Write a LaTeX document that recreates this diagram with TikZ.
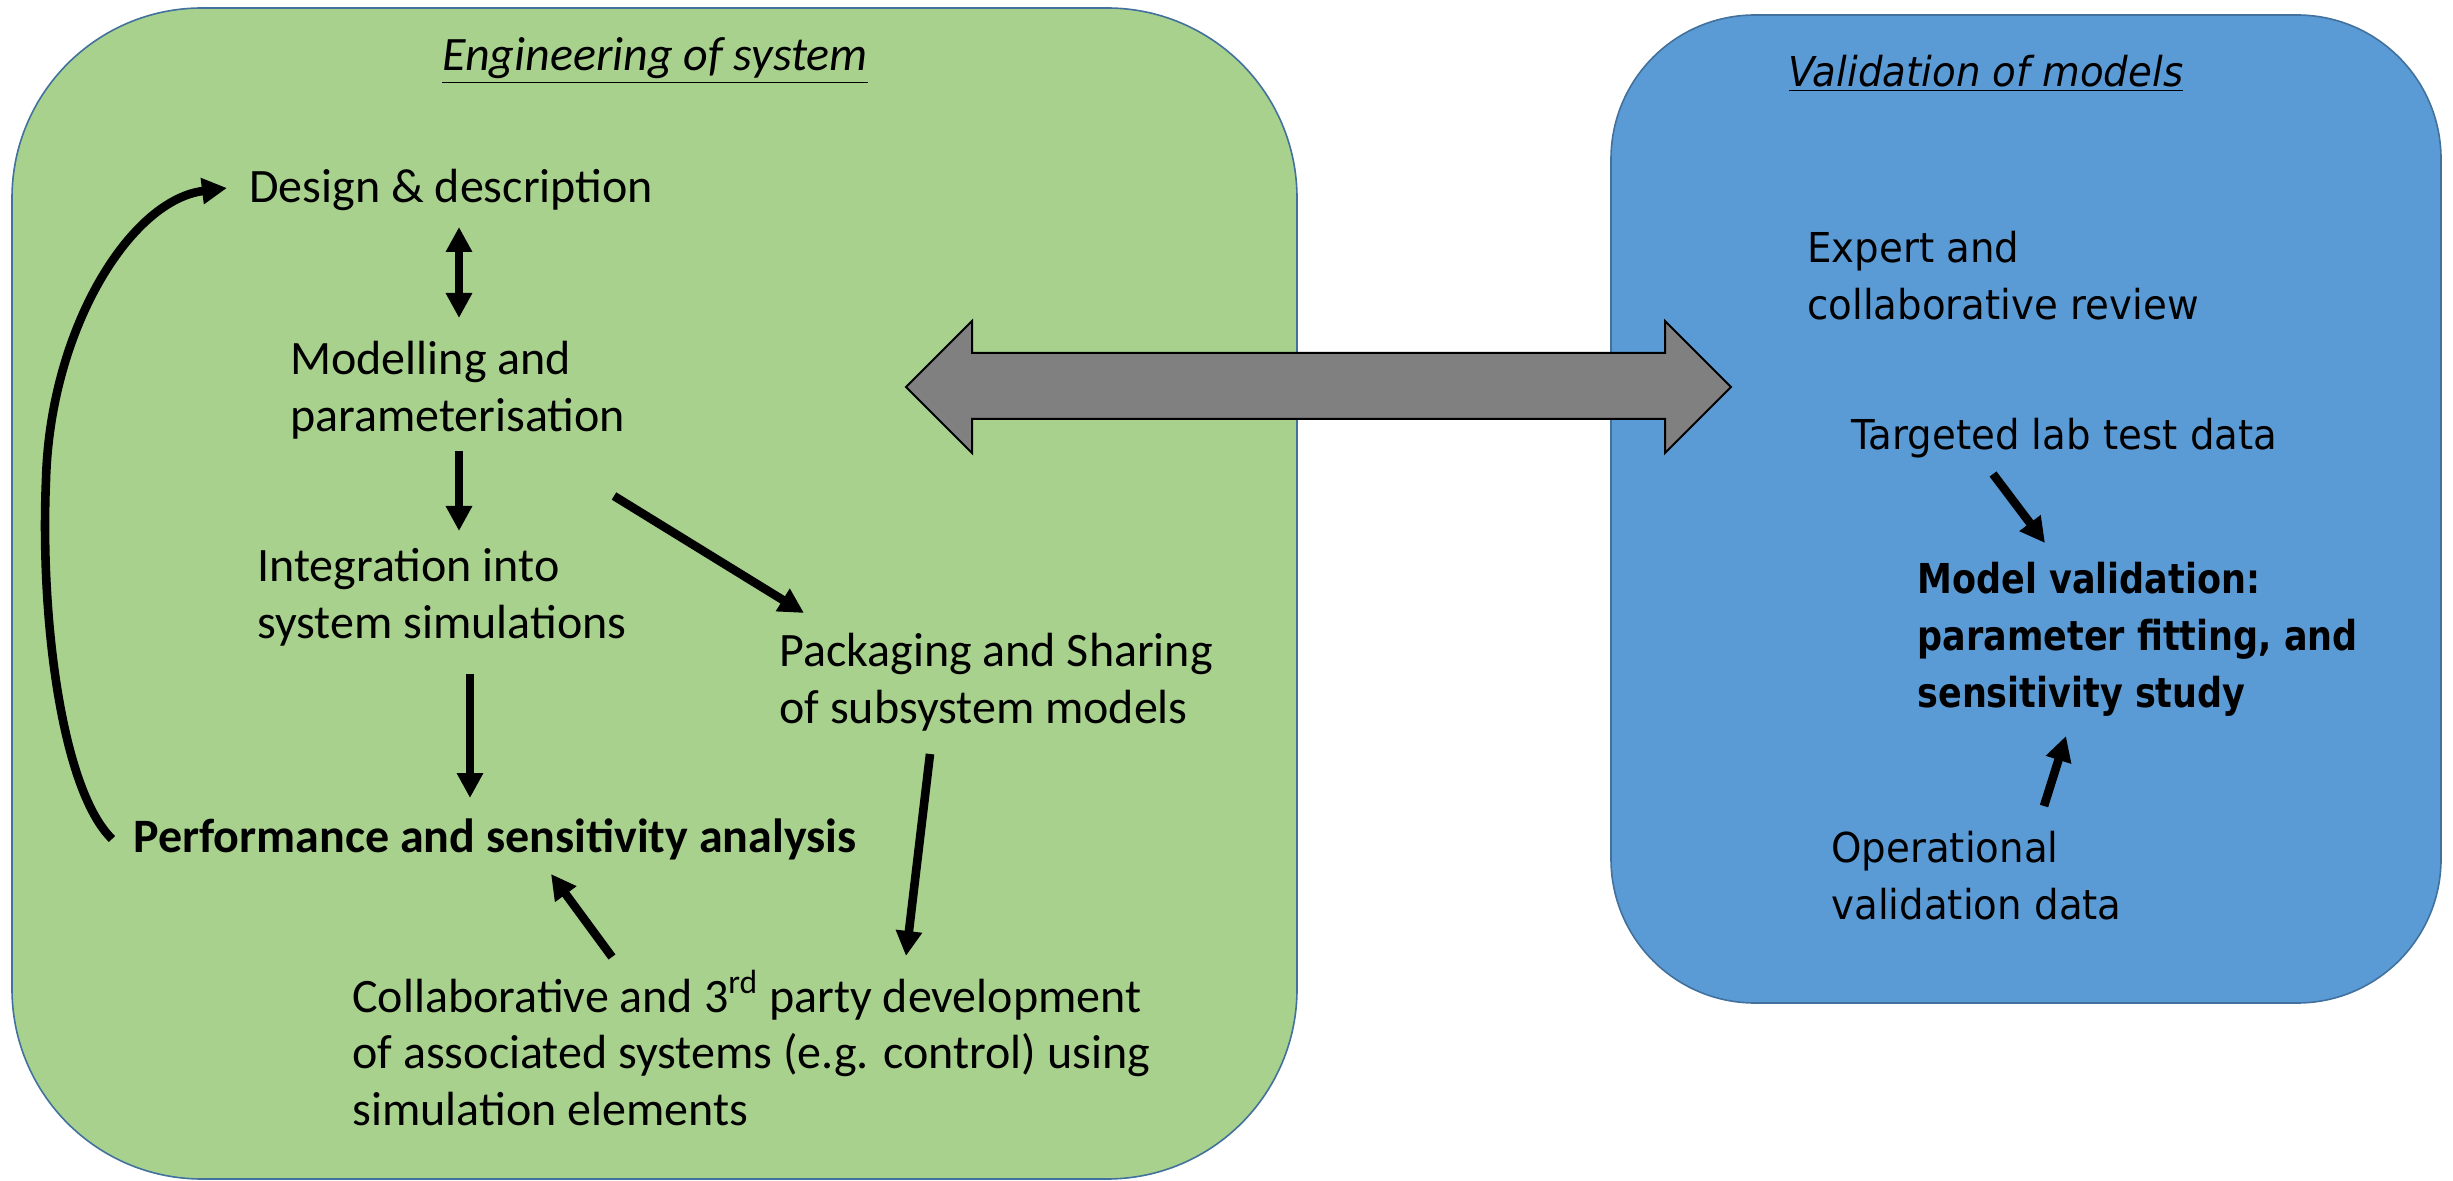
\documentclass[tikz,border=0pt]{standalone}
\usepackage{fontspec}
\newfontfamily\leftfont{Carlito}
\newfontfamily\rightfont{DejaVu Sans}[FakeStretch=0.94]
\newfontfamily\rightbold{DejaVu Sans}[FakeStretch=0.85]
\usetikzlibrary{arrows.meta}
\definecolor{engfill}{HTML}{A9D18E}
\definecolor{valfill}{HTML}{5B9BD5}
\definecolor{panelline}{HTML}{41719C}
\definecolor{linkgray}{HTML}{808080}
% stacked lines whose reference point is the first baseline
\newcommand{\stackedlines}[1]{\begin{tabular}[t]{@{}l@{}}#1\end{tabular}}
\tikzset{
  panel/.style={draw=panelline, line width=0.8pt},
  ltext/.style={font=\leftfont\fontsize{24}{28.25}\selectfont, inner sep=0pt, anchor=base west},
  rtext/.style={font=\rightfont\fontsize{20.6}{28.5}\selectfont, inner sep=0pt, anchor=base west},
  conn/.style={line width=4.3pt, -{Triangle[length=12.5pt,width=12.5pt]}},
  biconn/.style={line width=4.3pt, {Triangle[length=12.5pt,width=12.5pt]}-{Triangle[length=12.5pt,width=12.5pt]}},
}
\begin{document}
\begin{tikzpicture}[x=0.5pt,y=-0.5pt]
\useasboundingbox (0,0) rectangle (2453,1181);

% the two panels
\draw[panel, fill=engfill, rounded corners=95pt] (12,8) rectangle (1297,1179);
\draw[panel, fill=valfill, rounded corners=72pt] (1611,15) rectangle (2441,1003);

% broad two-way link between the panels
\draw[fill=linkgray, line width=1pt, line join=miter]
  (906,387) -- (972,321) -- (972,353) -- (1665,353) -- (1665,321) -- (1731,387)
  -- (1665,453) -- (1665,419) -- (972,419) -- (972,453) -- cycle;

% engineering panel
\node[ltext, anchor=base] (engtitle) at (655,71) {\itshape\underline{Engineering of system}};
\node[ltext] (design) at (249,203) {Design \& description};
\node[ltext] (model) at (290,375) {\stackedlines{Modelling and\\parameterisation}};
\node[ltext] (integ) at (257,582) {\stackedlines{Integration into\\system simulations}};
\node[ltext] (pack) at (779,667) {\stackedlines{Packaging and Sharing\\of subsystem models}};
\node[ltext, font=\leftfont\bfseries\fontsize{24}{28.25}\selectfont] (perf) at (133,852) {Performance and sensitivity analysis};
\node[ltext] (collab) at (352,1012) {\stackedlines{Collaborative and 3\textsuperscript{rd} party development\\of associated systems (e.g. control) using\\simulation elements}};

% validation panel
\node[rtext, anchor=base] (valtitle) at (1986,87) {\itshape\underline{Validation of models}};
\node[rtext] (expert) at (1807,263) {\stackedlines{Expert and\\collaborative review}};
\node[rtext] (lab) at (1851,450) {Targeted lab test data};
\node[rtext, font=\rightbold\bfseries\fontsize{20.6}{28.5}\selectfont] (valid) at (1917,594) {\stackedlines{Model validation:\\parameter fitting, and\\sensitivity study}};
\node[rtext] (oper) at (1831,862) {\stackedlines{Operational\\validation data}};

% connector end points
\coordinate (dmA) at (459,227);
\coordinate (dmB) at (459,318);
\coordinate (miA) at (459,451);
\coordinate (miB) at (459,531);
\coordinate (ipA) at (470,674);
\coordinate (ipB) at (470,798);
\coordinate (mpA) at (614,496);
\coordinate (mpB) at (804,613);
\coordinate (pcA) at (930,754);
\coordinate (pcB) at (906,956);
\coordinate (cpA) at (612,957);
\coordinate (cpB) at (551,874);
\coordinate (loopA) at (112,839);
\coordinate (loopM) at (46,480);
\coordinate (loopB) at (227,188);
\coordinate (lvA) at (1993,474);
\coordinate (lvB) at (2045,543);
\coordinate (ovA) at (2044,806);
\coordinate (ovB) at (2066,736);

\draw[biconn] (dmA) -- (dmB);
\draw[conn] (miA) -- (miB);
\draw[conn] (ipA) -- (ipB);
\draw[conn] (mpA) -- (mpB);
\draw[conn] (pcA) -- (pcB);
\draw[conn] (cpA) -- (cpB);
\draw[conn] (loopA) .. controls (62,790) and (40,620) .. (loopM)
                    .. controls (50,330) and (130,200) .. (loopB);
\draw[conn] (lvA) -- (lvB);
\draw[conn] (ovA) -- (ovB);
\end{tikzpicture}
\end{document}
